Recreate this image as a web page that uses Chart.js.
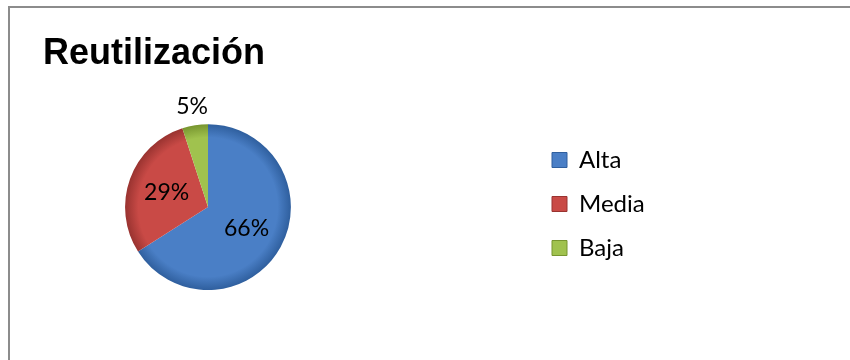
<!DOCTYPE html>
<html lang="es">
<head>
<meta charset="utf-8">
<title>Reutilización</title>
<script src="https://cdn.jsdelivr.net/npm/chart.js@4.4.1/dist/chart.umd.min.js"></script>
<style>
  html, body { margin: 0; padding: 0; background: #fff; }
  body { width: 850px; height: 360px; position: relative; overflow: hidden; }
  .frame {
    position: absolute; left: 8px; top: 6px; width: 900px; height: 400px;
    border-top: 2px solid #8c8c8c; border-left: 2px solid #8c8c8c;
  }
  .wrap { position: absolute; left: 0; top: 0; width: 850px; height: 360px; }
</style>
</head>
<body>
<div class="frame"></div>
<div class="wrap"><canvas id="reuse-chart"></canvas></div>
<script>
// datos
const levels     = ['Alta', 'Media', 'Baja'];
const reuseShare = [66, 29, 5];
const chartTitle = 'Reutilización';

const sliceColors = ['#4a7fc6', '#c94a46', '#a0c24e'];
const sliceRims   = ['#2f5f9e', '#993330', '#77952f'];
const LEGEND_LEFT = 532;
const LEGEND_TOP  = 128;

// soft radial shading so the slices look a bit like the bevelled office pie
function shade(c) {
  const i = c.dataIndex;
  const area = c.chart.chartArea;
  if (!area || i == null) return sliceColors[i] || sliceColors[0];
  const cx = (area.left + area.right) / 2, cy = (area.top + area.bottom) / 2;
  const r = Math.min(area.right - area.left, area.bottom - area.top) / 2;
  const g = c.chart.ctx.createRadialGradient(cx, cy, 0, cx, cy, r);
  g.addColorStop(0, sliceColors[i]);
  g.addColorStop(0.84, sliceColors[i]);
  g.addColorStop(1, sliceRims[i]);
  return g;
}

// the legend sits far to the right of the pie, so move its box after layout
const legendAt = {
  id: 'legendAt',
  afterLayout(chart) {
    const lg = chart.legend;
    if (!lg) return;
    lg.left = LEGEND_LEFT;  lg.right  = LEGEND_LEFT + lg.width;
    lg.top  = LEGEND_TOP;   lg.bottom = LEGEND_TOP + lg.height;
  }
};

// percentage labels: inside the big slices, outside the small one
const sliceLabels = {
  id: 'sliceLabels',
  afterDatasetsDraw(chart) {
    const { ctx } = chart;
    const meta = chart.getDatasetMeta(0);
    ctx.save();
    ctx.font = '23px Lato';
    ctx.fillStyle = '#000';
    ctx.textAlign = 'center';
    ctx.textBaseline = 'middle';
    meta.data.forEach((arc, i) => {
      const v = reuseShare[i];
      const { startAngle, endAngle, outerRadius } = arc.getProps(['startAngle', 'endAngle', 'outerRadius'], true);
      const mid = (startAngle + endAngle) / 2;
      const dist = v < 10 ? outerRadius + 19 : outerRadius * 0.53;
      ctx.fillText(v + '%', arc.x + Math.cos(mid) * dist, arc.y + Math.sin(mid) * dist);
    });
    ctx.restore();
  }
};

new Chart(document.getElementById('reuse-chart'), {
  type: 'pie',
  data: {
    labels: levels,
    datasets: [{
      data: reuseShare,
      backgroundColor: shade,
      borderWidth: 0
    }]
  },
  options: {
    responsive: true, maintainAspectRatio: false,
    animation: false,
    layout: { padding: { left: 43, right: 477, top: 0, bottom: 70 } },
    plugins: {
      title: {
        display: true, text: chartTitle, align: 'start', color: '#000',
        font: { family: 'Liberation Sans', size: 36, weight: 'bold', lineHeight: 1.2 },
        padding: { top: 32, bottom: 49 }
      },
      legend: {
        position: 'chartArea', align: 'start',
        labels: {
          color: '#000',
          font: { family: 'Lato', size: 24 },
          boxWidth: 15, boxHeight: 15, padding: 20,
          generateLabels: chart => Chart.overrides.pie.plugins.legend.labels.generateLabels(chart)
            .map((item, i) => ({ ...item, fillStyle: sliceColors[i], strokeStyle: sliceRims[i], lineWidth: 1 }))
        }
      },
      tooltip: { enabled: false }
    }
  },
  plugins: [legendAt, sliceLabels]
});
</script>
</body>
</html>
